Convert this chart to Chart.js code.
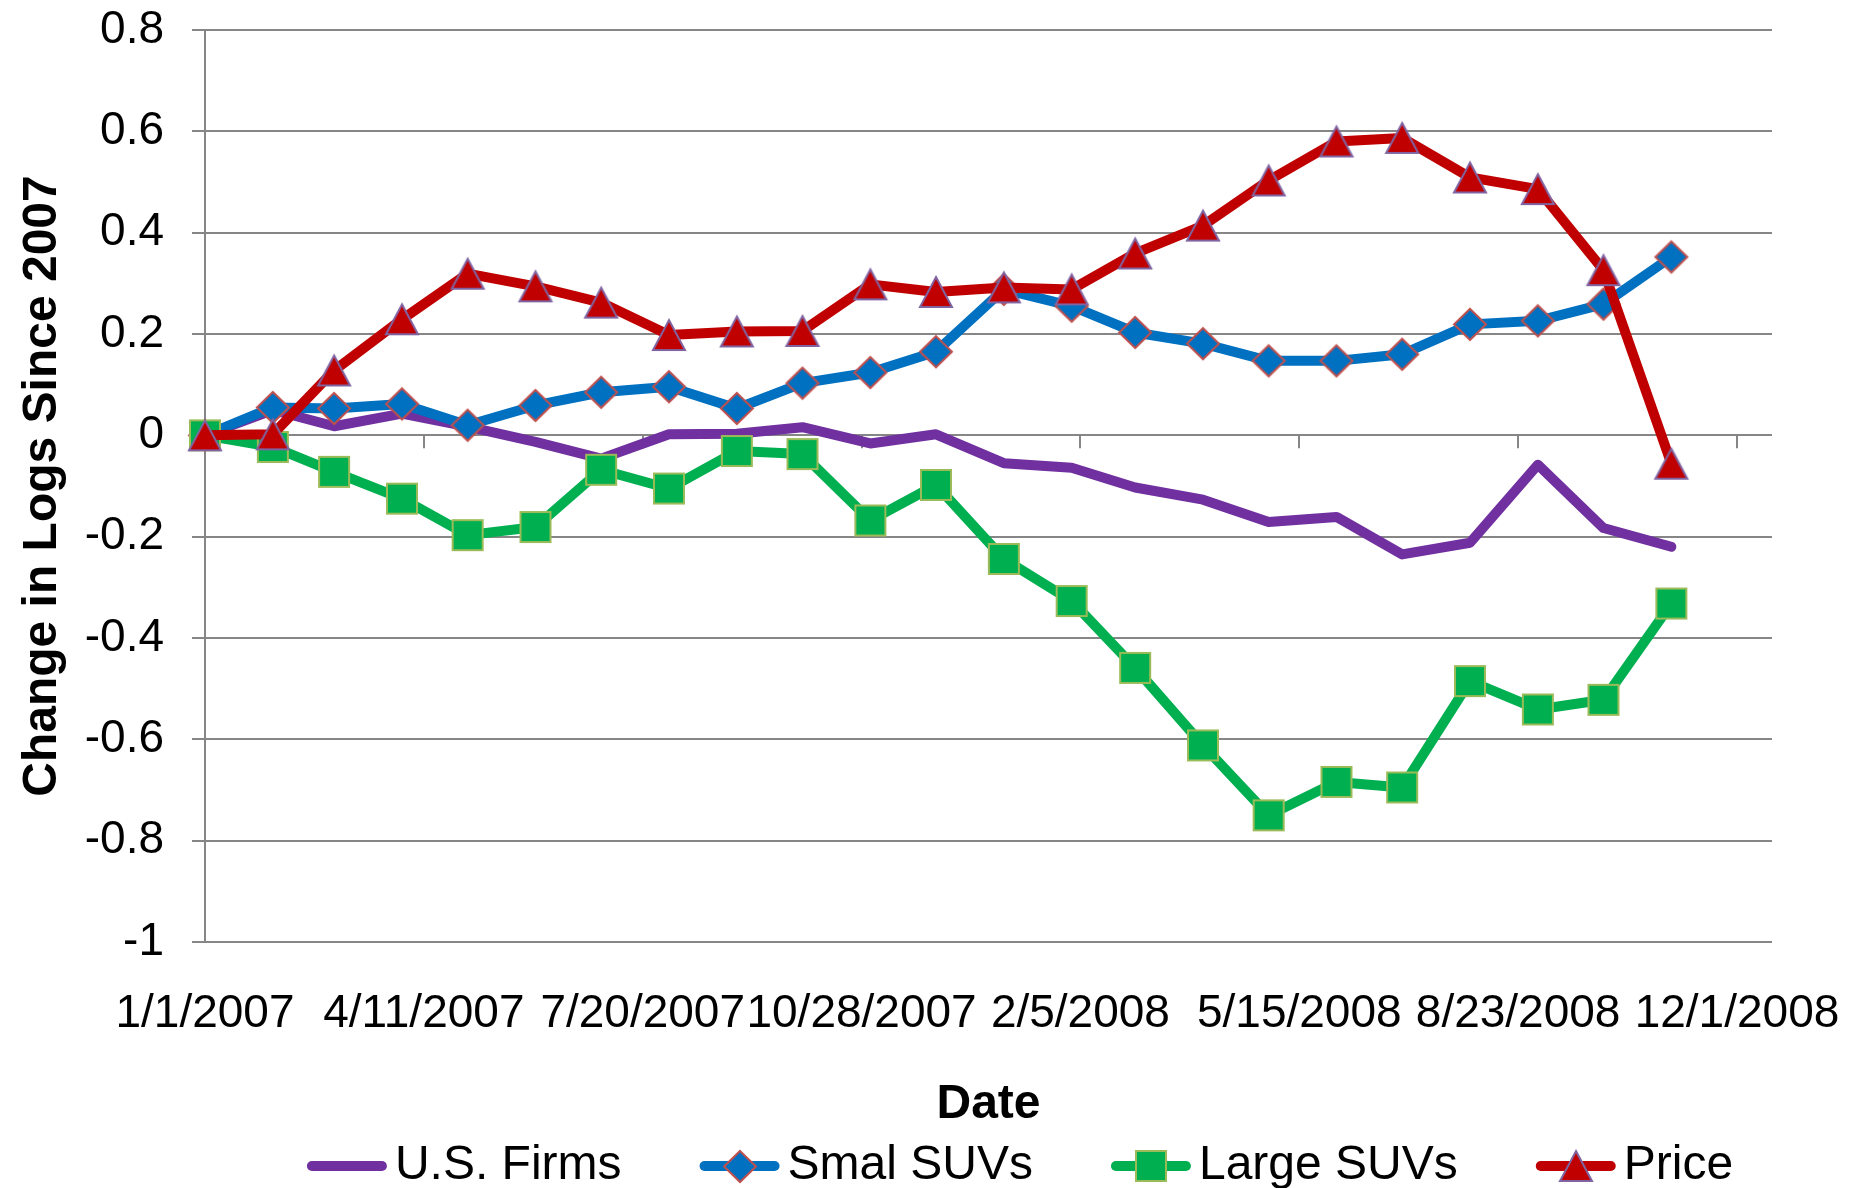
<!DOCTYPE html>
<html>
<head>
<meta charset="utf-8">
<script src="https://cdn.jsdelivr.net/npm/chart.js@4.4.1/dist/chart.umd.min.js"></script>
<style>
  body { margin: 0; background: #fff; }
  canvas { display: block; }
</style>
</head>
<body>
<canvas id="chart" width="1849" height="1188"></canvas>
<script>
// monthly observations, Jan 2007 - Nov 2008
const dates = [
  '2007-01-01', '2007-02-01', '2007-03-01', '2007-04-01', '2007-05-01', '2007-06-01',
  '2007-07-01', '2007-08-01', '2007-09-01', '2007-10-01', '2007-11-01', '2007-12-01',
  '2008-01-01', '2008-02-01', '2008-03-01', '2008-04-01', '2008-05-01', '2008-06-01',
  '2008-07-01', '2008-08-01', '2008-09-01', '2008-10-01', '2008-11-01'
];
const usFirms = [0, 0.05, 0.018, 0.043, 0.017, -0.013, -0.046, 0.002, 0.003, 0.016, -0.016, 0.002,
  -0.055, -0.064, -0.103, -0.127, -0.171, -0.161, -0.235, -0.212, -0.058, -0.183, -0.22];
const smalSUVs = [0, 0.055, 0.053, 0.062, 0.02, 0.059, 0.085, 0.096, 0.053, 0.103, 0.124, 0.165,
  0.288, 0.255, 0.203, 0.181, 0.147, 0.147, 0.16, 0.219, 0.226, 0.259, 0.352];
const largeSUVs = [0, -0.023, -0.072, -0.125, -0.197, -0.181, -0.068, -0.105, -0.031, -0.037, -0.168, -0.098,
  -0.244, -0.327, -0.459, -0.612, -0.75, -0.684, -0.695, -0.485, -0.541, -0.522, -0.332];
const price = [0, 0.002, 0.128, 0.229, 0.319, 0.294, 0.262, 0.198, 0.205, 0.206, 0.298, 0.283,
  0.292, 0.288, 0.359, 0.414, 0.503, 0.58, 0.587, 0.509, 0.486, 0.326, -0.056];
const seriesNames = ['U.S. Firms', 'Smal SUVs', 'Large SUVs', 'Price'];
const xTickLabels = ['1/1/2007', '4/11/2007', '7/20/2007', '10/28/2007', '2/5/2008', '5/15/2008', '8/23/2008', '12/1/2008'];

const gridColor = '#868686';
const fontFamily = "'Liberation Sans', Arial, sans-serif";

// x is days since the first date, like an Excel date axis
const day0 = Date.parse(dates[0]);
const days = dates.map(d => Math.round((Date.parse(d) - day0) / 86400000));
const toPoints = vals => vals.map((v, i) => ({ x: days[i], y: v }));

// Excel style markers, centred on their bounding box
function makeMarker(shape, w, h, fill, stroke) {
  const lw = 2;
  const c = document.createElement('canvas');
  c.width = w + lw * 2 + 2;
  c.height = h + lw * 2 + 2;
  const ctx = c.getContext('2d');
  const cx = c.width / 2, cy = c.height / 2;
  ctx.beginPath();
  if (shape === 'diamond') {
    ctx.moveTo(cx, cy - h / 2);
    ctx.lineTo(cx + w / 2, cy);
    ctx.lineTo(cx, cy + h / 2);
    ctx.lineTo(cx - w / 2, cy);
  } else if (shape === 'square') {
    ctx.rect(cx - w / 2, cy - h / 2, w, h);
  } else {
    ctx.moveTo(cx, cy - h / 2);
    ctx.lineTo(cx + w / 2, cy + h / 2);
    ctx.lineTo(cx - w / 2, cy + h / 2);
  }
  ctx.closePath();
  ctx.fillStyle = fill;
  ctx.fill();
  ctx.lineWidth = lw;
  ctx.strokeStyle = stroke;
  ctx.stroke();
  return c;
}

const diamond = makeMarker('diamond', 32, 31, '#0070C0', '#C0504D');
const square = makeMarker('square', 30, 30, '#00B050', '#9BBB59');
const triangle = makeMarker('triangle', 32, 30, '#C00000', '#8064A2');

// small tick marks hanging off the zero line
const zeroAxisTicks = {
  id: 'zeroAxisTicks',
  beforeDatasetsDraw(chart) {
    const { ctx, scales: { x, y } } = chart;
    const y0 = y.getPixelForValue(0);
    ctx.save();
    ctx.strokeStyle = gridColor;
    ctx.lineWidth = 2;
    x.ticks.forEach(t => {
      const px = Math.round(x.getPixelForValue(t.value));
      ctx.beginPath();
      ctx.moveTo(px, y0);
      ctx.lineTo(px, y0 + 13);
      ctx.stroke();
    });
    ctx.restore();
  }
};

// legend: move it to where Excel had it, draw line samples with markers
const sampleLen = 80;
const legendMarkers = {
  id: 'legendMarkers',
  afterLayout(chart) {
    const lg = chart.legend;
    lg.left += 134; lg.right += 134;
    lg.top -= 70;
  },
  afterDraw(chart) {
    const ctx = chart.ctx;
    const lg = chart.legend;
    lg.legendHitBoxes.forEach((box, i) => {
      const ds = chart.data.datasets[lg.legendItems[i].datasetIndex];
      const cy = box.top + box.height / 2;
      ctx.save();
      ctx.strokeStyle = ds.borderColor;
      ctx.lineWidth = 10;
      ctx.lineCap = 'round';
      ctx.beginPath();
      ctx.moveTo(box.left + 5, cy);
      ctx.lineTo(box.left + sampleLen - 5, cy);
      ctx.stroke();
      ctx.restore();
      const mk = ds.pointStyle;
      if (mk instanceof HTMLCanvasElement) {
        ctx.drawImage(mk, Math.round(box.left + sampleLen / 2 - mk.width / 2), Math.round(cy - mk.height / 2));
      }
    });
  }
};

new Chart(document.getElementById('chart'), {
  type: 'line',
  data: {
    datasets: [
      { label: seriesNames[0], data: toPoints(usFirms), borderColor: '#7030A0', backgroundColor: '#7030A0',
        borderWidth: 10, pointRadius: 0, order: 3 },
      { label: seriesNames[1], data: toPoints(smalSUVs), borderColor: '#0070C0', backgroundColor: '#0070C0',
        borderWidth: 10, pointStyle: diamond, pointRadius: 16, order: 2 },
      { label: seriesNames[2], data: toPoints(largeSUVs), borderColor: '#00B050', backgroundColor: '#00B050',
        borderWidth: 10, pointStyle: square, pointRadius: 16, order: 1 },
      { label: seriesNames[3], data: toPoints(price), borderColor: '#C00000', backgroundColor: '#C00000',
        borderWidth: 10, pointStyle: triangle, pointRadius: 16, order: 0 }
    ]
  },
  options: {
    responsive: false,
    animation: false,
    devicePixelRatio: 1,
    events: [],
    layout: { padding: { top: 30, right: 77, bottom: 0, left: 0 } },
    elements: {
      line: { tension: 0, borderJoinStyle: 'round', borderCapStyle: 'round', fill: false }
    },
    datasets: { line: { clip: false } },
    scales: {
      x: {
        type: 'linear',
        min: 0,
        max: 716,
        afterFit: s => { s.height = 192; s.paddingLeft = 0; s.paddingRight = 0; },
        grid: { display: false, drawTicks: false },
        border: { display: false },
        ticks: {
          stepSize: 100,
          includeBounds: false,
          autoSkip: false,
          maxRotation: 0,
          minRotation: 0,
          padding: 45,
          color: '#000',
          font: { family: fontFamily, size: 46 },
          callback: (v, i) => xTickLabels[i]
        },
        title: {
          display: true,
          text: 'Date',
          color: '#000',
          font: { family: fontFamily, size: 48, weight: 'bold' },
          padding: 0
        }
      },
      y: {
        min: -1,
        max: 0.8,
        afterFit: s => { s.width = 205; s.paddingTop = 0; s.paddingBottom = 0; },
        grid: { color: gridColor, lineWidth: 2, tickLength: 13 },
        border: { color: gridColor, width: 2 },
        ticks: {
          stepSize: 0.2,
          padding: 28,
          color: '#000',
          font: { family: fontFamily, size: 46 },
          callback: v => String(Math.round(v * 10) / 10)
        },
        title: {
          display: true,
          text: 'Change in Logs Since 2007',
          color: '#000',
          font: { family: fontFamily, size: 48, weight: 'bold' },
          padding: { top: 14, bottom: 0 }
        }
      }
    },
    plugins: {
      tooltip: { enabled: false },
      legend: {
        position: 'bottom',
        maxHeight: 54,
        labels: {
          boxWidth: 64,
          boxHeight: 10,
          padding: 78,
          color: '#000',
          font: { family: fontFamily, size: 48 },
          sort: (a, b) => a.datasetIndex - b.datasetIndex,
          generateLabels: chart => Chart.defaults.plugins.legend.labels.generateLabels(chart).map(item =>
            Object.assign(item, {
              fillStyle: 'rgba(0,0,0,0)',
              strokeStyle: 'rgba(0,0,0,0)',
              lineWidth: 0,
              fontColor: '#000'
            }))
        }
      }
    }
  },
  plugins: [zeroAxisTicks, legendMarkers]
});
</script>
</body>
</html>
